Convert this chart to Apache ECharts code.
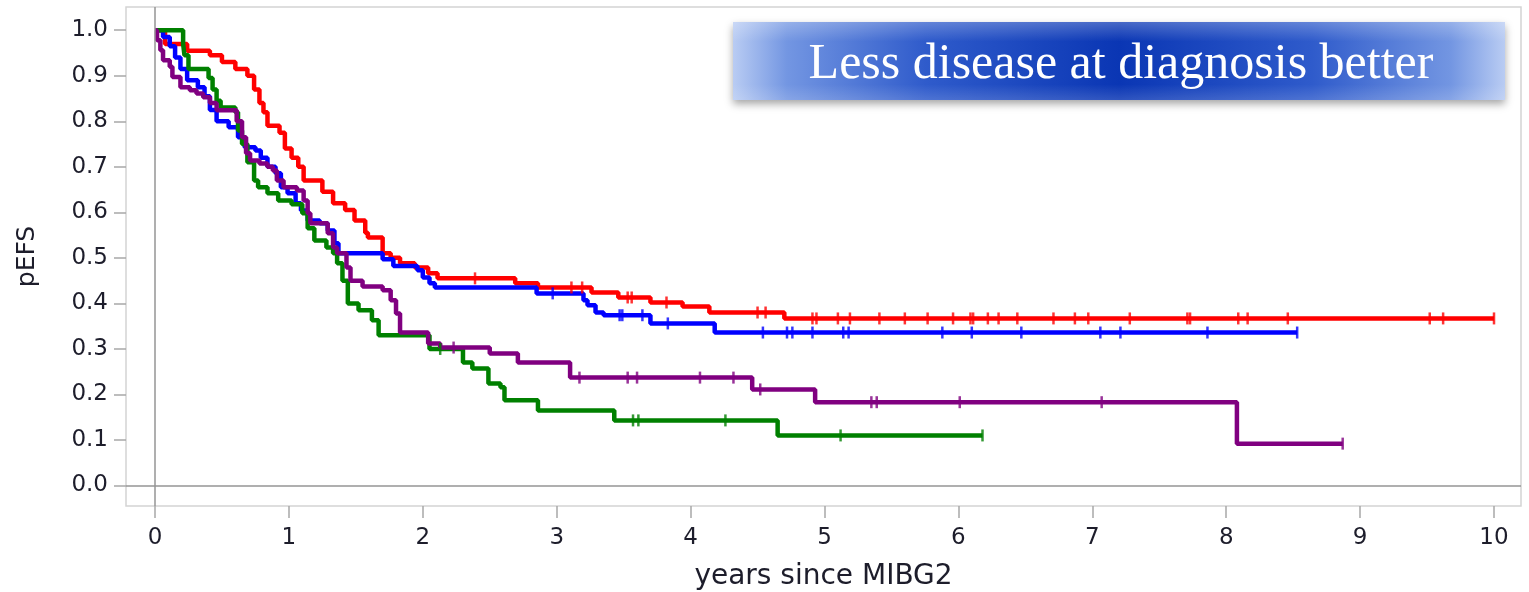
<!DOCTYPE html>
<html>
<head>
<meta charset="utf-8">
<script src="https://cdn.jsdelivr.net/npm/echarts@6/dist/echarts.min.js"></script>
<style>
  html, body { margin: 0; padding: 0; background: #fff; }
  #chart { width: 1529px; height: 592px; }
</style>
</head>
<body>
<div id="chart"></div>
<script>
// Axis tick values
const xTicks = [0, 1, 2, 3, 4, 5, 6, 7, 8, 9, 10];
const yTicks = [0, 0.1, 0.2, 0.3, 0.4, 0.5, 0.6, 0.7, 0.8, 0.9, 1.0];

// Kaplan-Meier steps: [time of event (years), survival after the event]
const redSteps = [
  [0, 1.0], [0.075, 0.97], [0.24, 0.955], [0.41, 0.945], [0.50, 0.93], [0.60, 0.915],
  [0.69, 0.90], [0.74, 0.87], [0.78, 0.84], [0.81, 0.82], [0.84, 0.79], [0.93, 0.775],
  [0.97, 0.74], [1.02, 0.72], [1.07, 0.70], [1.11, 0.67], [1.25, 0.645], [1.33, 0.62],
  [1.42, 0.605], [1.49, 0.582], [1.57, 0.555], [1.59, 0.545], [1.70, 0.51], [1.76, 0.50],
  [1.83, 0.488], [1.94, 0.479], [2.04, 0.466], [2.11, 0.455], [2.69, 0.444], [2.86, 0.435],
  [3.26, 0.424], [3.46, 0.413], [3.70, 0.402], [3.94, 0.393], [4.14, 0.38], [4.70, 0.367],
  [10.0, 0.367]
];
const blueSteps = [
  [0, 1.0], [0.06, 0.985], [0.11, 0.965], [0.15, 0.94], [0.19, 0.915], [0.24, 0.89],
  [0.32, 0.875], [0.37, 0.855], [0.41, 0.825], [0.46, 0.80], [0.55, 0.787], [0.62, 0.765],
  [0.67, 0.743], [0.75, 0.736], [0.79, 0.72], [0.84, 0.70], [0.90, 0.686], [0.94, 0.655],
  [0.99, 0.642], [1.05, 0.62], [1.09, 0.604], [1.14, 0.582], [1.23, 0.576], [1.29, 0.56],
  [1.34, 0.532], [1.37, 0.51], [1.70, 0.497], [1.78, 0.482], [1.96, 0.473], [2.00, 0.457],
  [2.05, 0.444], [2.09, 0.435], [2.85, 0.422], [3.20, 0.407], [3.23, 0.396], [3.29, 0.38],
  [3.35, 0.374], [3.70, 0.356], [4.18, 0.336], [8.53, 0.336]
];
const greenSteps = [
  [0, 1.0], [0.21, 0.97], [0.22, 0.945], [0.25, 0.915], [0.40, 0.895], [0.43, 0.87],
  [0.46, 0.845], [0.49, 0.83], [0.60, 0.82], [0.62, 0.78], [0.65, 0.75], [0.69, 0.71],
  [0.74, 0.67], [0.77, 0.655], [0.84, 0.642], [0.92, 0.626], [1.02, 0.618], [1.10, 0.598],
  [1.14, 0.565], [1.19, 0.538], [1.28, 0.523], [1.33, 0.51], [1.36, 0.488], [1.40, 0.45],
  [1.44, 0.40], [1.52, 0.385], [1.62, 0.363], [1.67, 0.33], [2.05, 0.30], [2.30, 0.27],
  [2.37, 0.257], [2.49, 0.224], [2.58, 0.216], [2.61, 0.187], [2.86, 0.165], [3.43, 0.143],
  [4.65, 0.11], [6.18, 0.11]
];
const purpleSteps = [
  [0, 1.0], [0.015, 0.978], [0.04, 0.956], [0.06, 0.934], [0.11, 0.92], [0.13, 0.897],
  [0.19, 0.875], [0.26, 0.868], [0.31, 0.861], [0.36, 0.853], [0.41, 0.84], [0.46, 0.824],
  [0.61, 0.80], [0.65, 0.765], [0.68, 0.73], [0.71, 0.714], [0.78, 0.707], [0.84, 0.70],
  [0.88, 0.692], [0.91, 0.67], [0.96, 0.655], [1.06, 0.648], [1.11, 0.626], [1.14, 0.598],
  [1.16, 0.576], [1.29, 0.554], [1.33, 0.523], [1.36, 0.51], [1.43, 0.479], [1.46, 0.45],
  [1.55, 0.437], [1.70, 0.429], [1.76, 0.407], [1.80, 0.378], [1.83, 0.336], [2.04, 0.312],
  [2.13, 0.303], [2.50, 0.29], [2.71, 0.27], [3.10, 0.237], [4.46, 0.211], [4.93, 0.183],
  [8.08, 0.092], [8.87, 0.092]
];

// Censoring times (years)
const redCensored = [2.39, 3.11, 3.19, 3.53, 3.56, 3.82, 4.50, 4.56, 4.91, 4.94, 5.10, 5.19,
  5.41, 5.60, 5.77, 5.96, 6.09, 6.11, 6.22, 6.30, 6.44, 6.71, 6.87, 6.97, 7.28, 7.71, 7.73,
  8.09, 8.16, 8.46, 9.52, 9.62, 10.0];
const blueCensored = [2.97, 3.47, 3.49, 3.64, 3.83, 4.54, 4.72, 4.76, 4.91, 5.14, 5.18, 5.88,
  6.10, 6.47, 7.06, 7.21, 7.86, 8.53];
const greenCensored = [2.13, 3.57, 3.61, 4.26, 5.12, 6.18];
const purpleCensored = [2.23, 3.17, 3.53, 3.60, 4.07, 4.32, 4.52, 5.35, 5.39, 6.01, 7.07, 8.87];

const groups = [
  { name: 'red', color: '#ff0000', steps: redSteps, censored: redCensored },
  { name: 'blue', color: '#0000ff', steps: blueSteps, censored: blueCensored },
  { name: 'green', color: '#008000', steps: greenSteps, censored: greenCensored },
  { name: 'purple', color: '#800080', steps: purpleSteps, censored: purpleCensored }
];

// Survival level of a step curve at time t
function levelAt(steps, t) {
  let s = steps[0][1];
  for (const [time, val] of steps) {
    if (time <= t + 1e-9) s = val; else break;
  }
  return s;
}

const series = [];
groups.forEach(g => {
  series.push({
    name: g.name,
    type: 'line',
    step: 'end',
    data: g.steps,
    showSymbol: false,
    symbol: 'none',
    silent: true,
    lineStyle: { color: g.color, width: 4.5 },
    z: 3
  });
  series.push({
    name: g.name + '-censor',
    type: 'scatter',
    data: g.censored.map(t => [t, levelAt(g.steps, t)]),
    symbol: 'rect',
    symbolSize: [2.5, 12],
    itemStyle: { color: g.color },
    silent: true,
    z: 4
  });
});

// Reference lines at time 0 and survival 0
series.push({
  type: 'line',
  data: [],
  silent: true,
  markLine: {
    silent: true,
    symbol: 'none',
    label: { show: false },
    lineStyle: { color: '#959595', width: 1.5, type: 'solid' },
    data: [{ xAxis: 0 }, { yAxis: 0 }]
  },
  z: 1
});

const labelFont = { fontFamily: 'DejaVu Sans', fontSize: 23, color: '#1d1d2b' };

const option = {
  animation: false,
  backgroundColor: '#ffffff',
  grid: {
    left: 126, top: 7, right: 8, bottom: 86,
    show: true, borderColor: '#d4d4d4', borderWidth: 1.5,
    containLabel: false, outerBoundsMode: 'none'
  },
  xAxis: {
    type: 'value',
    min: -0.2166, max: 10.2016,
    name: 'years since MIBG2',
    nameLocation: 'middle',
    nameGap: 57,
    nameTextStyle: { fontFamily: 'DejaVu Sans', fontSize: 28, color: '#1d1d2b' },
    axisLine: { show: false, onZero: false },
    axisTick: { show: true, customValues: xTicks, length: 12, lineStyle: { color: '#a8a8a8', width: 1.5 } },
    axisLabel: Object.assign({ customValues: xTicks, margin: 21 }, labelFont),
    splitLine: { show: false }
  },
  yAxis: {
    type: 'value',
    min: -0.045, max: 1.051,
    name: 'pEFS',
    nameLocation: 'middle',
    nameGap: 86,
    nameRotate: 90,
    nameTextStyle: { fontFamily: 'DejaVu Sans', fontSize: 25, color: '#1d1d2b' },
    axisLine: { show: false, onZero: false },
    axisTick: { show: true, customValues: yTicks, length: 12, lineStyle: { color: '#a8a8a8', width: 1.5 } },
    axisLabel: Object.assign({
      customValues: yTicks, margin: 18,
      formatter: v => v.toFixed(1)
    }, labelFont),
    splitLine: { show: false }
  },
  graphic: [
    {
      type: 'group',
      left: 733, top: 22,
      children: [
        {
          type: 'rect',
          shape: { x: 0, y: 0, width: 772, height: 78 },
          style: {
            fill: {
              type: 'linear', x: 0, y: 0, x2: 1, y2: 0,
              colorStops: [
                { offset: 0, color: '#b9ccf3' },
                { offset: 0.07, color: '#7396e2' },
                { offset: 0.25, color: '#2f5bcb' },
                { offset: 0.5, color: '#0a36b4' },
                { offset: 0.75, color: '#2f5bcb' },
                { offset: 0.93, color: '#7396e2' },
                { offset: 1, color: '#b9ccf3' }
              ]
            },
            shadowBlur: 8,
            shadowOffsetY: 4,
            shadowColor: 'rgba(0,0,0,0.35)'
          }
        },
        {
          type: 'rect',
          shape: { x: 0, y: 0, width: 772, height: 78 },
          style: {
            fill: {
              type: 'linear', x: 0, y: 0, x2: 0, y2: 1,
              colorStops: [
                { offset: 0, color: 'rgba(255,255,255,0.25)' },
                { offset: 0.25, color: 'rgba(255,255,255,0)' },
                { offset: 0.8, color: 'rgba(255,255,255,0)' },
                { offset: 1, color: 'rgba(255,255,255,0.15)' }
              ]
            }
          }
        },
        {
          type: 'text',
          x: 388, y: 43,
          style: {
            text: 'Less disease at diagnosis better',
            fill: '#ffffff',
            font: '50px "Liberation Serif"',
            textAlign: 'center',
            textVerticalAlign: 'middle',
            align: 'center',
            verticalAlign: 'middle'
          }
        }
      ]
    }
  ],
  series: series
};

const chart = echarts.init(document.getElementById('chart'), null, { renderer: 'canvas' });
chart.setOption(option);
</script>
</body>
</html>
